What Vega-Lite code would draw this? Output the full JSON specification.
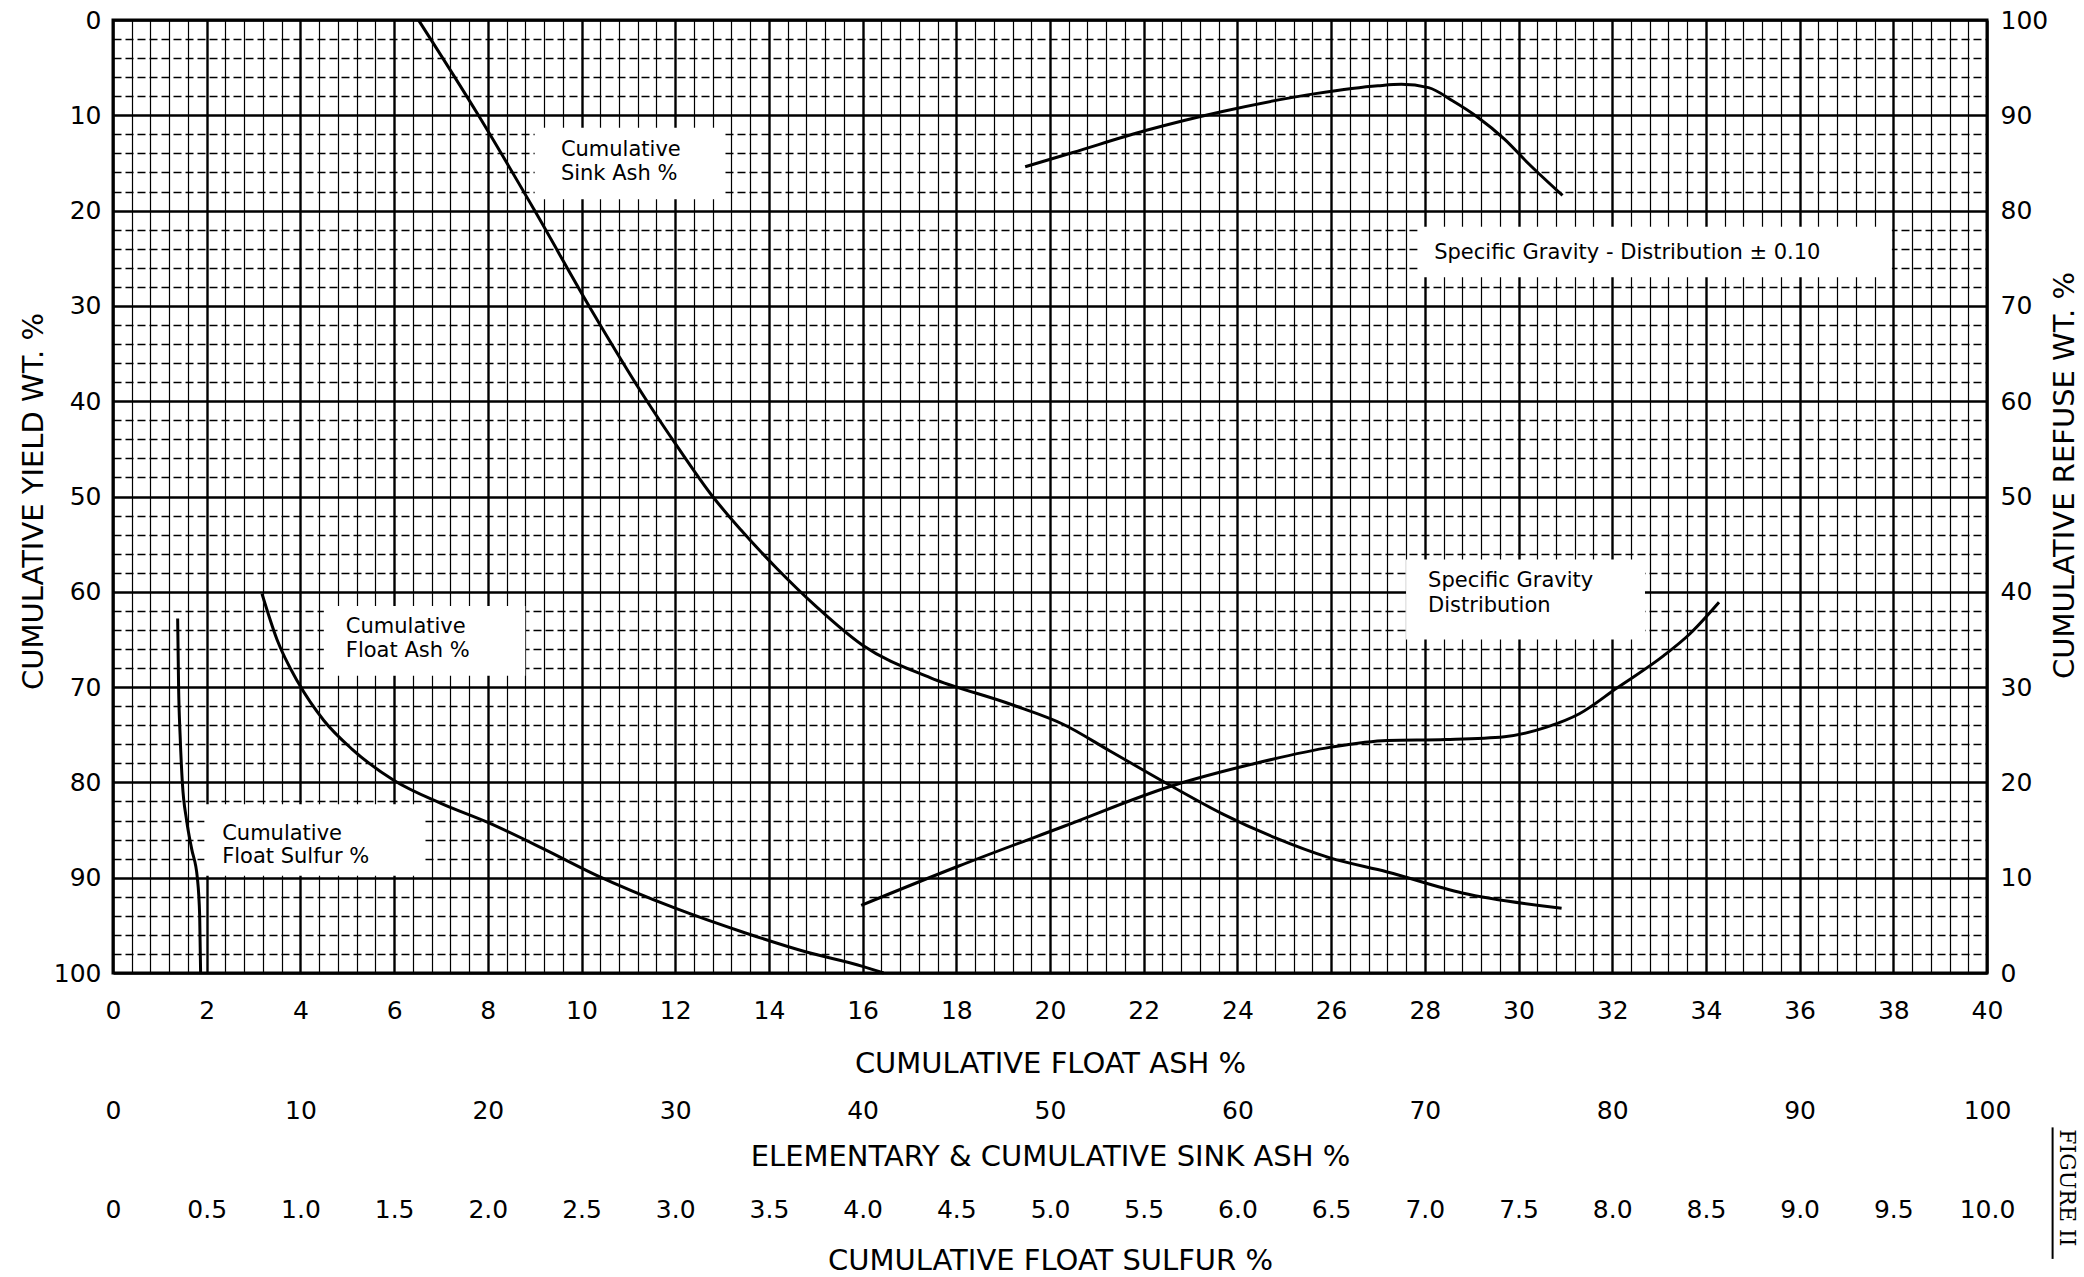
{
  "$schema": "https://vega.github.io/schema/vega-lite/v6.json",
  "autosize": "none",
  "width": 1874,
  "height": 953,
  "padding": {"left": 113, "top": 20, "right": 97, "bottom": 304},
  "background": "white",
  "view": {"stroke": "black", "strokeWidth": 3},
  "config": {
    "font": "DejaVu Sans",
    "axis": {
      "labelFont": "DejaVu Sans", "titleFont": "DejaVu Sans",
      "labelColor": "black", "titleColor": "black",
      "labelFontSize": 25, "titleFontSize": 29, "titleFontWeight": "normal",
      "ticks": false, "tickSize": 0, "domain": false,
      "labelFlush": false, "labelOverlap": false,
      "gridColor": "black", "gridOpacity": 1
    }
  },
  "datasets": {
    "sink": [
      {"yield": 0, "sink": 16.3}, {"yield": 10, "sink": 19.5}, {"yield": 20, "sink": 22.5},
      {"yield": 30, "sink": 25.4}, {"yield": 40, "sink": 28.5}, {"yield": 45, "sink": 30.2},
      {"yield": 50, "sink": 32.0}, {"yield": 53.5, "sink": 33.5}, {"yield": 57.5, "sink": 35.4},
      {"yield": 61.5, "sink": 37.5}, {"yield": 65.6, "sink": 40.0}, {"yield": 69, "sink": 43.6},
      {"yield": 71.8, "sink": 47.9}, {"yield": 73.9, "sink": 50.7}, {"yield": 76.7, "sink": 53.2},
      {"yield": 80.3, "sink": 56.4}, {"yield": 83.3, "sink": 59.2}, {"yield": 85.8, "sink": 62.0},
      {"yield": 87.9, "sink": 64.9}, {"yield": 89.4, "sink": 68.0}, {"yield": 91.6, "sink": 72.0},
      {"yield": 93.2, "sink": 77.3}
    ],
    "floatash": [
      {"yield": 60.2, "ash": 3.18}, {"yield": 65, "ash": 3.5}, {"yield": 69.5, "ash": 3.95},
      {"yield": 73.5, "ash": 4.5}, {"yield": 76.5, "ash": 5.1}, {"yield": 79.8, "ash": 6.0},
      {"yield": 82.2, "ash": 7.0}, {"yield": 84.2, "ash": 8.0}, {"yield": 87.0, "ash": 9.2},
      {"yield": 89.7, "ash": 10.3}, {"yield": 93.2, "ash": 12.0}, {"yield": 95.8, "ash": 13.5},
      {"yield": 97.8, "ash": 14.8}, {"yield": 99.3, "ash": 16.0}, {"yield": 100, "ash": 16.45}
    ],
    "sulfur": [
      {"yield": 62.8, "sulfur": 0.345}, {"yield": 70, "sulfur": 0.35}, {"yield": 75, "sulfur": 0.358},
      {"yield": 80, "sulfur": 0.37}, {"yield": 84, "sulfur": 0.393}, {"yield": 87, "sulfur": 0.42},
      {"yield": 90, "sulfur": 0.45}, {"yield": 94, "sulfur": 0.4625}, {"yield": 100, "sulfur": 0.4675}
    ],
    "sg": [
      {"x": 15.97, "refuse": 7.1}, {"x": 18.04, "refuse": 11.2}, {"x": 20.3, "refuse": 15.4},
      {"x": 22.58, "refuse": 19.6}, {"x": 24.3, "refuse": 21.9}, {"x": 26.0, "refuse": 23.7},
      {"x": 27.2, "refuse": 24.4}, {"x": 28.45, "refuse": 24.5}, {"x": 29.7, "refuse": 24.8},
      {"x": 30.6, "refuse": 25.8}, {"x": 31.3, "refuse": 27.2}, {"x": 32.1, "refuse": 29.9},
      {"x": 33.1, "refuse": 33.3}, {"x": 33.66, "refuse": 35.6}, {"x": 34.28, "refuse": 38.9}
    ],
    "sg10": [
      {"x": 19.47, "refuse": 84.6}, {"x": 20.49, "refuse": 86.1}, {"x": 22.04, "refuse": 88.4},
      {"x": 23.68, "refuse": 90.4}, {"x": 25.7, "refuse": 92.3}, {"x": 27.0, "refuse": 93.1},
      {"x": 27.5, "refuse": 93.25}, {"x": 28.08, "refuse": 92.9}, {"x": 28.6, "refuse": 91.5},
      {"x": 29.13, "refuse": 89.8}, {"x": 29.7, "refuse": 87.5}, {"x": 30.2, "refuse": 85.0},
      {"x": 30.94, "refuse": 81.6}
    ],
    "boxes": [
      {"x1": 9.0, "x2": 13.05, "y1": 11.3, "y2": 18.8},
      {"x1": 4.5, "x2": 8.8, "y1": 61.5, "y2": 68.8},
      {"x1": 1.95, "x2": 6.6, "y1": 82.3, "y2": 89.8},
      {"x1": 27.85, "x2": 37.97, "y1": 21.7, "y2": 27.0},
      {"x1": 27.6, "x2": 32.7, "y1": 56.6, "y2": 65.0}
    ],
    "labels": [
      {"x": 9.56, "y": 13.6, "text": "Cumulative"},
      {"x": 9.56, "y": 16.2, "text": "Sink Ash %"},
      {"x": 4.97, "y": 63.7, "text": "Cumulative"},
      {"x": 4.97, "y": 66.2, "text": "Float Ash %"},
      {"x": 2.33, "y": 85.4, "text": "Cumulative"},
      {"x": 2.33, "y": 87.8, "text": "Float  Sulfur %"},
      {"x": 28.2, "y": 24.4, "text": "Specific  Gravity - Distribution  ± 0.10"},
      {"x": 28.07, "y": 58.9, "text": "Specific  Gravity"},
      {"x": 28.07, "y": 61.5, "text": "Distribution"}
    ],
    "figure": [
      {"x": 41.7, "y": 116.4, "text": "FIGURE II"}
    ],
    "figline": [
      {"x": 41.4, "y": 116.2, "y2": 130.0}
    ]
  },
  "layer": [
    {
      "data": {"name": "boxes"},
      "mark": {"type": "rect", "fill": "white"},
      "encoding": {
        "x": {"field": "x1", "type": "quantitative", "scale": {"domain": [0, 40], "nice": false}, "axis": null},
        "x2": {"field": "x2"},
        "y": {"field": "y1", "type": "quantitative", "scale": {"domain": [0, 100], "reverse": true, "nice": false}, "axis": null},
        "y2": {"field": "y2"}
      }
    },
    {
      "data": {"name": "sink"},
      "mark": {"type": "line", "color": "black", "strokeWidth": 3, "interpolate": "monotone"},
      "encoding": {
        "x": {
          "field": "sink", "type": "quantitative",
          "scale": {"domain": [0, 100], "nice": false},
          "axis": {
            "orient": "bottom",
            "values": [0,1,2,3,4,5,6,7,8,9,10,11,12,13,14,15,16,17,18,19,20,21,22,23,24,25,26,27,28,29,30,31,32,33,34,35,36,37,38,39,40,41,42,43,44,45,46,47,48,49,50,51,52,53,54,55,56,57,58,59,60,61,62,63,64,65,66,67,68,69,70,71,72,73,74,75,76,77,78,79,80,81,82,83,84,85,86,87,88,89,90,91,92,93,94,95,96,97,98,99,100],
            "grid": true,
            "gridWidth": {"condition": {"test": "datum.value % 5 === 0", "value": 2.4}, "value": 1.2},
            "labelExpr": "datum.value % 10 === 0 ? datum.label : ''",
            "labelPadding": 137, "labelBaseline": "middle",
            "title": "ELEMENTARY & CUMULATIVE SINK ASH %",
            "titleY": 183, "titleBaseline": "middle"
          }
        },
        "y": {
          "field": "yield", "type": "quantitative",
          "scale": {"domain": [0, 100], "reverse": true, "nice": false},
          "axis": {
            "orient": "left",
            "values": [0,2,4,6,8,10,12,14,16,18,20,22,24,26,28,30,32,34,36,38,40,42,44,46,48,50,52,54,56,58,60,62,64,66,68,70,72,74,76,78,80,82,84,86,88,90,92,94,96,98,100],
            "grid": true,
            "gridWidth": {"condition": {"test": "datum.value % 10 === 0", "value": 2.4}, "value": 1.3},
            "gridDash": {"condition": {"test": "datum.value % 10 === 0", "value": [1, 0]}, "value": [8, 4]},
            "labelExpr": "datum.value % 10 === 0 ? datum.label : ''",
            "labelPadding": 12, "labelBaseline": "middle",
            "title": "CUMULATIVE YIELD WT. %",
            "titleX": -80, "titleY": 481, "titleAngle": 270,
            "titleAlign": "center", "titleBaseline": "middle"
          }
        }
      }
    },
    {
      "data": {"name": "floatash"},
      "mark": {"type": "line", "color": "black", "strokeWidth": 3, "interpolate": "monotone"},
      "encoding": {
        "x": {
          "field": "ash", "type": "quantitative",
          "scale": {"domain": [0, 40], "nice": false},
          "axis": {
            "orient": "bottom",
            "values": [0,2,4,6,8,10,12,14,16,18,20,22,24,26,28,30,32,34,36,38,40],
            "grid": false,
            "labelPadding": 37, "labelBaseline": "middle",
            "title": "CUMULATIVE FLOAT ASH %",
            "titleY": 90, "titleBaseline": "middle"
          }
        },
        "y": {"field": "yield", "type": "quantitative", "scale": {"domain": [0, 100], "reverse": true, "nice": false}, "axis": null}
      }
    },
    {
      "data": {"name": "sulfur"},
      "mark": {"type": "line", "color": "black", "strokeWidth": 3, "interpolate": "monotone"},
      "encoding": {
        "x": {
          "field": "sulfur", "type": "quantitative",
          "scale": {"domain": [0, 10], "nice": false},
          "axis": {
            "orient": "bottom",
            "values": [0,0.5,1,1.5,2,2.5,3,3.5,4,4.5,5,5.5,6,6.5,7,7.5,8,8.5,9,9.5,10],
            "grid": false,
            "labelExpr": "datum.value === 0 ? '0' : format(datum.value, '.1f')",
            "labelPadding": 236, "labelBaseline": "middle",
            "title": "CUMULATIVE FLOAT SULFUR %",
            "titleY": 287, "titleBaseline": "middle"
          }
        },
        "y": {"field": "yield", "type": "quantitative", "scale": {"domain": [0, 100], "reverse": true, "nice": false}, "axis": null},
        "order": {"field": "yield", "type": "quantitative"}
      }
    },
    {
      "data": {"name": "sg"},
      "mark": {"type": "line", "color": "black", "strokeWidth": 3, "interpolate": "monotone"},
      "encoding": {
        "x": {"field": "x", "type": "quantitative", "scale": {"domain": [0, 40], "nice": false}, "axis": null},
        "y": {
          "field": "refuse", "type": "quantitative",
          "scale": {"domain": [0, 100], "nice": false},
          "axis": {
            "orient": "right",
            "values": [0,10,20,30,40,50,60,70,80,90,100],
            "grid": false,
            "labelPadding": 13, "labelAlign": "left", "labelBaseline": "middle",
            "title": "CUMULATIVE REFUSE WT. %",
            "titleX": 77, "titleY": 455, "titleAngle": 270,
            "titleAlign": "center", "titleBaseline": "middle"
          }
        }
      }
    },
    {
      "data": {"name": "sg10"},
      "mark": {"type": "line", "color": "black", "strokeWidth": 3, "interpolate": "monotone"},
      "encoding": {
        "x": {"field": "x", "type": "quantitative", "scale": {"domain": [0, 40], "nice": false}, "axis": null},
        "y": {"field": "refuse", "type": "quantitative", "scale": {"domain": [0, 100], "nice": false}, "axis": null}
      }
    },
    {
      "data": {"name": "labels"},
      "mark": {"type": "text", "align": "left", "baseline": "middle", "font": "DejaVu Sans", "fontSize": 21, "color": "black"},
      "encoding": {
        "x": {"field": "x", "type": "quantitative", "scale": {"domain": [0, 40], "nice": false}, "axis": null},
        "y": {"field": "y", "type": "quantitative", "scale": {"domain": [0, 100], "reverse": true, "nice": false}, "axis": null},
        "text": {"field": "text", "type": "nominal"}
      }
    },
    {
      "data": {"name": "figure"},
      "mark": {"type": "text", "align": "left", "baseline": "middle", "angle": 90, "font": "DejaVu Serif", "fontSize": 22, "color": "black", "clip": false},
      "encoding": {
        "x": {"field": "x", "type": "quantitative", "scale": {"domain": [0, 40], "nice": false}, "axis": null},
        "y": {"field": "y", "type": "quantitative", "scale": {"domain": [0, 100], "reverse": true, "nice": false}, "axis": null},
        "text": {"field": "text", "type": "nominal"}
      }
    },
    {
      "data": {"name": "figline"},
      "mark": {"type": "rule", "color": "black", "strokeWidth": 2, "clip": false},
      "encoding": {
        "x": {"field": "x", "type": "quantitative", "scale": {"domain": [0, 40], "nice": false}, "axis": null},
        "y": {"field": "y", "type": "quantitative", "scale": {"domain": [0, 100], "reverse": true, "nice": false}, "axis": null},
        "y2": {"field": "y2"}
      }
    }
  ],
  "resolve": {
    "scale": {"x": "independent", "y": "independent"},
    "axis": {"x": "independent", "y": "independent"}
  }
}
